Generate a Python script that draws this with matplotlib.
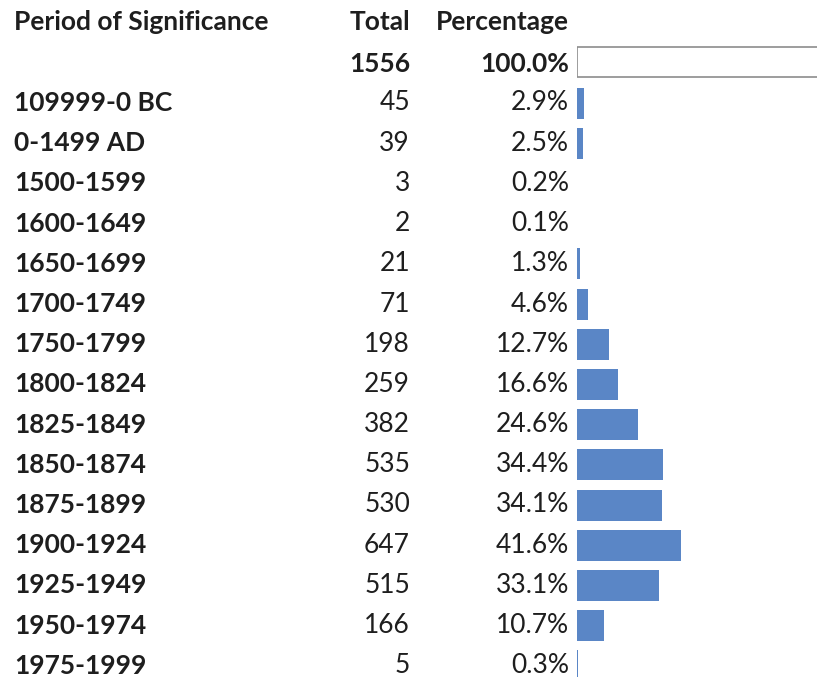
import matplotlib
matplotlib.use("Agg")
import matplotlib.pyplot as plt

# ---- data ----
header = ["Period of Significance", "Total", "Percentage"]
grand_total = 1556
grand_pct = 100.0
periods = ["109999-0 BC", "0-1499 AD", "1500-1599", "1600-1649", "1650-1699",
           "1700-1749", "1750-1799", "1800-1824", "1825-1849", "1850-1874",
           "1875-1899", "1900-1924", "1925-1949", "1950-1974", "1975-1999"]
totals = [45, 39, 3, 2, 21, 71, 198, 259, 382, 535, 530, 647, 515, 166, 5]
percentages = [2.9, 2.5, 0.2, 0.1, 1.3, 4.6, 12.7, 16.6, 24.6, 34.4, 34.1,
               41.6, 33.1, 10.7, 0.3]

W, H = 817, 677
fig = plt.figure(figsize=(W / 100, H / 100), dpi=100)
fig.patch.set_facecolor("white")

# layout (pixel rows)
y_header = 22
y_total = 64
y_rows = [103 + 40.2 * i for i in range(len(periods))]

ax = fig.add_axes([0, 0, 1, 1])
ax.set_xlim(0, W)
ax.set_ylim(H, 0)
ax.axis("off")

fam = ["Lato", "DejaVu Sans"]
fs = 19
col = "#1e1e1e"
x_label, x_total, x_pct = 14, 410, 569

def txt(x, y, s, ha, bold):
    ax.text(x, y, s, ha=ha, va="center", fontsize=fs,
            fontweight="bold" if bold else "normal", family=fam, color=col)

txt(x_label, y_header, header[0], "left", True)
txt(x_total, y_header, header[1], "right", True)
txt(x_pct, y_header, header[2], "right", True)
txt(x_total, y_total, str(grand_total), "right", True)
txt(x_pct, y_total, f"{grand_pct:.1f}%", "right", True)

for y, p, t, pc in zip(y_rows, periods, totals, percentages):
    txt(x_label, y, p, "left", True)
    txt(x_total, y, str(t), "right", False)
    txt(x_pct, y, f"{pc:.1f}%", "right", False)

# data bars
bx0 = 577
px_per_pct = 2.49
bax = fig.add_axes([bx0 / W, 0, (W - bx0) / W, 1])
bax.set_xlim(0, (W - bx0) / px_per_pct)
bax.set_ylim(H, 0)
bax.axis("off")
bax.barh([y_total - 2], [grand_pct], height=30, left=0, color="white",
         edgecolor="#8c8c8c", linewidth=1.2)
bax.barh(y_rows, percentages, height=31, left=0, color="#5a86c6",
         edgecolor="none")

fig.savefig("out.png", dpi=100, facecolor="white")
